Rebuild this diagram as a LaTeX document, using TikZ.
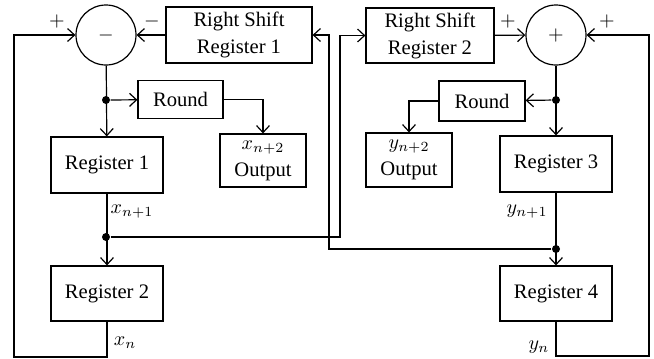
\documentclass[tikz,border=0pt]{standalone}
\usepackage{fontspec}
\setmainfont{Liberation Serif}
\usetikzlibrary{arrows.meta}

\begin{document}
\begin{tikzpicture}[x=0.5pt, y=-0.5pt, line width=0.6pt,
	>={Straight Barb[length=3.5pt,width=6.5pt]},
	every node/.style={font=\fontsize{10.3}{13.5}\selectfont},
	box/.style={draw, inner sep=0pt, align=center},
	summer/.style={draw, circle, inner sep=0pt, minimum size=30pt},
	junction/.style={circle, fill, inner sep=0pt, minimum size=4pt}]

		% fix the page size
		\useasboundingbox (0,0) rectangle (654,359);

		% x branch: subtractor, shift register and two registers
		\node[summer] (subx) at (106,35) {$-$};
		\node[box, minimum width=73pt, minimum height=28pt] (shift1) at (239,35) {Right Shift\\Register 1};
		\node[box, minimum width=42.5pt, minimum height=19pt] (roundx) at (180.5,99.5) {Round};
		\node[box, minimum width=43pt, minimum height=26.5pt] (outx) at (263,160.5) {$x_{n+2}$\\Output};
		\node[box, minimum width=56pt, minimum height=28pt] (reg1) at (107,165) {Register 1};
		\node[box, minimum width=56pt, minimum height=27.5pt] (reg2) at (107,293.5) {Register 2};

		% y branch: adder, shift register and two registers
		\node[summer] (addy) at (556,35) {$+$};
		\node[box, minimum width=64pt, minimum height=27.5pt] (shift2) at (430,35.5) {Right Shift\\Register 2};
		\node[box, minimum width=43pt, minimum height=20pt] (roundy) at (482,101) {Round};
		\node[box, minimum width=43pt, minimum height=27pt] (outy) at (409,160) {$y_{n+2}$\\Output};
		\node[box, minimum width=56pt, minimum height=28pt] (reg3) at (556,164) {Register 3};
		\node[box, minimum width=56pt, minimum height=27.5pt] (reg4) at (556,293.5) {Register 4};

		% branching points
		\node[junction] (jx1) at (106,100) {};
		\node[junction] (jx2) at (106,237) {};
		\node[junction] (jy1) at (556,100) {};
		\node[junction] (jy2) at (556,249) {};

		% corners of the feedback and cross lines
		\coordinate (xback) at (14,357);
		\coordinate (yback) at (649,356);
		\coordinate (xcross) at (340,237);
		\coordinate (ycross) at (329,249);

		% x branch wiring
		\draw[->] (subx) -- (reg1);
		\draw[->] (jx1) -- (roundx);
		\draw[->] (roundx.east) -| (outx.north);
		\draw[->] (reg1) -- (reg2);
		\draw[->] (reg2.south) |- (xback) |- (subx.west);
		\draw[->] (shift1) -- (subx);
		\draw[->] (jx2) -- (xcross) |- (shift2.west);

		% y branch wiring
		\draw[->] (addy) -- (reg3);
		\draw[->] (jy1) -- (roundy);
		\draw[->] (roundy.west) -| (outy.north);
		\draw[->] (reg3) -- (reg4);
		\draw[->] (reg4.south) |- (yback) |- (addy.east);
		\draw[->] (shift2) -- (addy);
		\draw[->] (jy2) -- (ycross) |- (shift1.east);

		% signs and signal names
		\node (px) at (57,21) {$+$};
		\node (mx) at (152,21) {$-$};
		\node (py1) at (508,21) {$+$};
		\node (py2) at (607,21) {$+$};
		\node (x1) at (132,212) {$x_{n+1}$};
		\node (x0) at (125,343) {$x_n$};
		\node (y1) at (527,212) {$y_{n+1}$};
		\node (y0) at (539,347) {$y_n$};
	\end{tikzpicture}
\end{document}
